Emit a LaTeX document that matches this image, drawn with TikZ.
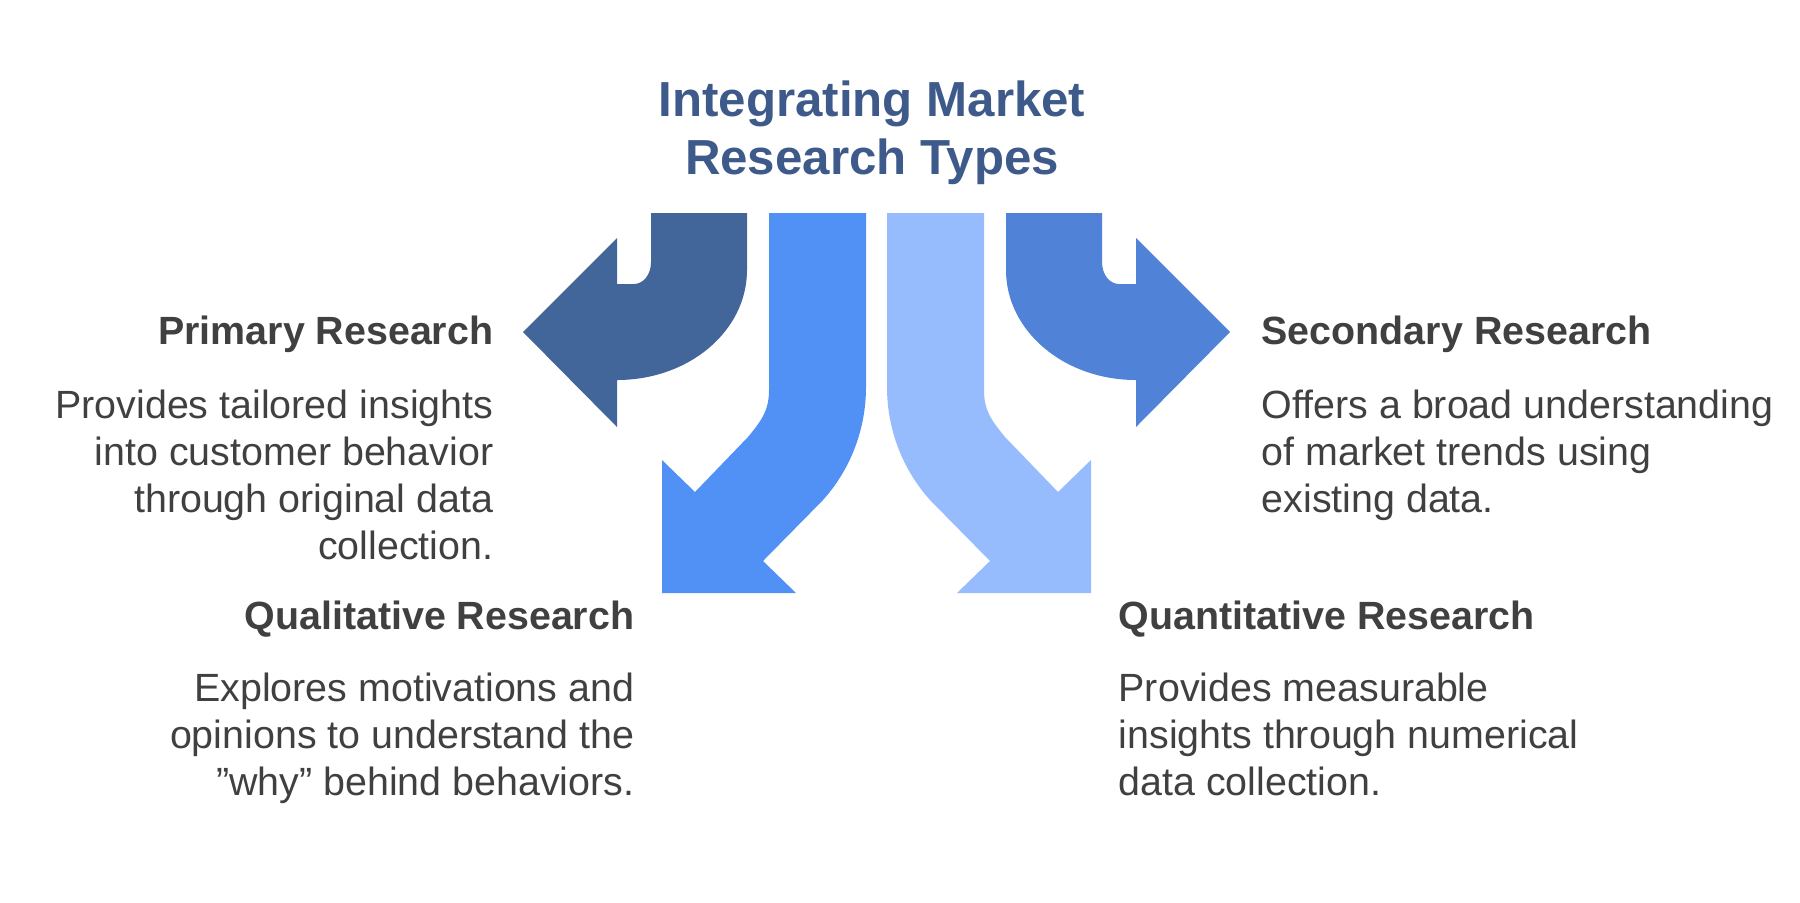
\documentclass[tikz,border=0pt]{standalone}
\usepackage{fontspec}
\setmainfont{Liberation Sans}
\usepackage{tikz}
\definecolor{darkblue}{HTML}{42659A}
\definecolor{midblue}{HTML}{5190F5}
\definecolor{lightblue}{HTML}{97BCFD}
\definecolor{rightblue}{HTML}{5083D8}
\definecolor{titleblue}{HTML}{3D5A8A}
\definecolor{textgray}{HTML}{404040}
\tikzset{
  heading/.style={font=\fontsize{11.2}{13.4}\selectfont\bfseries, text=textgray, inner sep=0pt},
  body/.style={font=\fontsize{11.2}{13.4}\selectfont, text=textgray, inner sep=0pt},
}
\begin{document}
\begin{tikzpicture}[x=0.01cm, y=-0.01cm]
    \useasboundingbox (0,0) rectangle (1800,902);
    % Title
    \node [font=\fontsize{14}{16.5}\selectfont\bfseries, text=titleblue, align=center, anchor=north, inner sep=0pt] (title) at (872,80) {Integrating Market\\Research Types};
    % Primary research arrow (left)
    \fill [darkblue] (651,213) -- (747,213) -- (747,270) .. controls (747,331) and (689,380) .. (617,380) -- (617,427) -- (523,332) -- (617,238) -- (617,284) -- (634,284) .. controls (643,284) and (651,275) .. (651,262) -- cycle;
    % Qualitative research arrow
    \fill [midblue] (769,213) -- (866,213) -- (866,387) .. controls (866,430) and (850,470) .. (823,500) -- (763,561) -- (796,593) -- (662,593) -- (662,460) -- (695,492) -- (748,437) .. controls (762,420) and (769,410) .. (769,390) -- cycle;
    % Quantitative research arrow
    \fill [lightblue] (984,213) -- (887,213) -- (887,387) .. controls (887,430) and (903,470) .. (930,500) -- (990,561) -- (957,593) -- (1091,593) -- (1091,460) -- (1058,492) -- (1005,437) .. controls (991,420) and (984,410) .. (984,390) -- cycle;
    % Secondary research arrow (right)
    \fill [rightblue] (1102,213) -- (1006,213) -- (1006,270) .. controls (1006,331) and (1064,380) .. (1136,380) -- (1136,427) -- (1230,332) -- (1136,238) -- (1136,284) -- (1119,284) .. controls (1110,284) and (1102,275) .. (1102,262) -- cycle;
    % Labels
    \node [heading, anchor=base east] (primary) at (494,344) {Primary Research};
    \node [body, anchor=north east, align=right] (primarytext) at (494,389) {Provides tailored insights\\into customer behavior\\through original data\\collection.};
    \node [heading, anchor=base east] (quali) at (635,629) {Qualitative Research};
    \node [body, anchor=north east, align=right] (qualitext) at (635,672) {Explores motivations and\\opinions to understand the\\\symbol{34}why\symbol{34} behind behaviors.};
    \node [heading, anchor=base west] (secondary) at (1261,344) {Secondary Research};
    \node [body, anchor=north west, align=left] (secondarytext) at (1261,389) {Offers a broad understanding\\of market trends using\\existing data.};
    \node [heading, anchor=base west] (quanti) at (1118,629) {Quantitative Research};
    \node [body, anchor=north west, align=left] (quantitext) at (1118,672) {Provides measurable\\insights through numerical\\data collection.};
\end{tikzpicture}
\end{document}
